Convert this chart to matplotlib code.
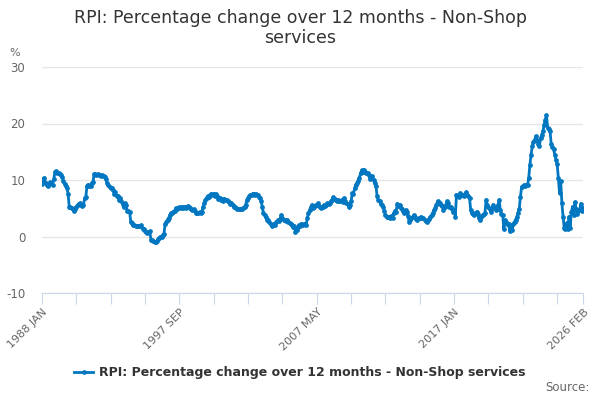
import matplotlib
matplotlib.use("Agg")
import matplotlib.pyplot as plt
import numpy as np

# valores mensuales (ene 1988 - feb 2026)
y1988 = [9.3, 10.2, 10.4, 9.4, 9.2, 9.0, 9.3, 9.6, 9.4, 9.2, 10.2, 11.5]
y1989 = [11.6, 11.3, 11.2, 11.0, 10.9, 10.6, 9.8, 9.3, 9.0, 8.6, 7.6, 5.3]
y1990 = [5.2, 5.0, 4.8, 4.6, 4.9, 5.3, 5.6, 5.8, 5.9, 5.5, 5.4, 5.6]
y1991 = [6.8, 7.0, 9.0, 9.2, 9.0, 8.9, 9.5, 9.6, 11.0, 11.1, 10.9, 11.0]
y1992 = [10.8, 10.9, 10.7, 10.8, 10.7, 10.6, 10.1, 9.5, 9.2, 8.8, 8.6, 8.5]
y1993 = [8.2, 7.6, 7.8, 7.2, 7.1, 6.5, 6.9, 6.3, 5.8, 5.2, 5.9, 5.6]
y1994 = [4.5, 4.5, 4.4, 2.5, 2.4, 2.0, 2.0, 1.8, 1.9, 1.8, 1.9, 1.9]
y1995 = [2.0, 1.4, 1.3, 1.0, 0.8, 0.7, 0.8, 0.9, -0.6, -0.7, -0.8, -0.9]
y1996 = [-0.9, -0.8, -0.5, -0.3, -0.1, 0.0, 0.3, 0.5, 2.3, 2.5, 3.0, 3.3]
y1997 = [3.8, 4.1, 4.2, 4.4, 4.6, 5.0, 4.8, 5.0, 5.2, 5.1, 5.3, 5.0]
y1998 = [5.2, 5.3, 5.1, 5.4, 5.2, 5.0, 4.9, 4.7, 4.8, 4.5, 4.2, 4.1]
y1999 = [4.1, 4.3, 4.2, 4.4, 5.2, 5.9, 6.5, 6.9, 7.1, 7.0, 7.3, 7.6]
y2000 = [7.4, 7.6, 7.2, 7.5, 7.1, 6.6, 6.9, 6.5, 6.6, 6.3, 6.7, 6.4]
y2001 = [6.4, 6.2, 6.1, 5.8, 5.9, 5.6, 5.3, 5.2, 5.0, 4.9, 4.8, 4.8]
y2002 = [4.8, 4.9, 5.1, 5.3, 5.6, 6.5, 6.8, 7.1, 7.3, 7.4, 7.6, 7.6]
y2003 = [7.4, 7.5, 7.4, 7.0, 6.8, 6.3, 5.3, 4.1, 3.8, 3.4, 3.0, 2.9]
y2004 = [2.6, 2.2, 1.8, 2.0, 2.3, 2.1, 2.6, 2.9, 2.7, 3.1, 3.8, 3.2]
y2005 = [2.9, 3.0, 2.7, 2.9, 2.6, 2.4, 2.3, 2.1, 1.7, 1.9, 0.8, 1.2]
y2006 = [1.7, 2.0, 1.9, 2.3, 2.0, 2.2, 2.3, 2.0, 3.2, 4.1, 4.7, 5.2]
y2007 = [5.6, 5.0, 5.3, 5.5, 5.6, 5.9, 5.4, 5.2, 5.0, 5.3, 5.6, 5.4]
y2008 = [5.6, 5.9, 5.7, 6.0, 6.2, 6.5, 7.0, 6.6, 6.4, 6.2, 6.5, 6.2]
y2009 = [6.3, 6.5, 6.1, 6.8, 6.3, 6.0, 5.8, 5.2, 5.6, 6.2, 7.7, 7.6]
y2010 = [8.5, 9.2, 9.5, 9.9, 10.4, 11.2, 11.7, 11.5, 11.8, 11.5, 11.2, 11.3]
y2011 = [10.8, 10.2, 10.4, 10.7, 10.0, 9.4, 8.9, 7.1, 6.5, 6.2, 5.8, 5.5]
y2012 = [5.3, 4.6, 3.8, 3.5, 3.5, 3.4, 3.2, 3.6, 3.3, 4.1, 4.6, 4.4]
y2013 = [5.8, 5.4, 5.6, 5.0, 4.8, 4.5, 4.1, 4.7, 4.4, 3.6, 2.6, 3.0]
y2014 = [3.2, 3.5, 3.8, 3.4, 3.1, 2.9, 3.2, 3.3, 3.5, 3.3, 3.2, 3.0]
y2015 = [2.8, 2.6, 2.9, 3.1, 3.5, 3.8, 4.2, 4.7, 5.0, 5.6, 6.2, 6.0]
y2016 = [5.9, 5.6, 5.4, 4.7, 5.2, 5.6, 6.2, 5.9, 5.3, 5.3, 4.9, 4.4]
y2017 = [4.7, 3.5, 7.4, 7.2, 7.0, 7.7, 7.4, 7.3, 7.1, 7.5, 7.8, 7.4]
y2018 = [7.1, 6.8, 4.7, 4.2, 4.0, 3.8, 4.1, 4.4, 4.0, 3.2, 2.9, 3.5]
y2019 = [3.8, 3.9, 4.1, 6.5, 5.6, 5.3, 4.9, 4.4, 5.0, 5.6, 5.1, 4.7]
y2020 = [5.2, 5.5, 6.5, 4.7, 4.0, 3.8, 1.3, 2.9, 2.6, 2.3, 2.3, 0.9]
y2021 = [1.5, 1.1, 2.3, 2.6, 3.0, 3.5, 4.2, 4.9, 7.0, 8.8, 8.9, 9.1]
y2022 = [9.0, 9.2, 9.1, 10.4, 12.7, 14.5, 16.0, 16.8, 17.1, 17.7, 17.0, 16.4]
y2023 = [16.0, 17.4, 18.0, 18.6, 19.8, 20.7, 21.5, 19.2, 19.0, 18.7, 16.3, 15.8]
y2024 = [15.4, 14.5, 13.6, 12.8, 10.4, 7.7, 9.8, 5.9, 3.5, 1.5, 1.4, 2.4]
y2025 = [1.4, 3.5, 1.5, 4.3, 5.3, 3.8, 6.1, 4.9, 4.0, 4.5, 4.8, 5.8]
y2026 = [4.6, 5.0]

valores = (y1988 + y1989 + y1990 + y1991 + y1992 + y1993 + y1994 + y1995 + y1996 +
           y1997 + y1998 + y1999 + y2000 + y2001 + y2002 + y2003 + y2004 + y2005 +
           y2006 + y2007 + y2008 + y2009 + y2010 + y2011 + y2012 + y2013 + y2014 +
           y2015 + y2016 + y2017 + y2018 + y2019 + y2020 + y2021 + y2022 + y2023 +
           y2024 + y2025 + y2026)

meses = ["JAN", "FEB", "MAR", "APR", "MAY", "JUN", "JUL", "AUG", "SEP", "OCT", "NOV", "DEC"]
etiquetas = [str(1988 + i // 12) + " " + meses[i % 12] for i in range(len(valores))]

azul = "#0077c0"
gris_texto = "#666666"

plt.rcParams['font.family'] = ['DejaVu Sans']
plt.rcParams['axes.unicode_minus'] = False

fig = plt.figure(figsize=(6, 4), dpi=100)
ax = fig.add_axes([0.07, 0.2675, 0.902, 0.565])

x = np.arange(len(valores))
ax.plot(x, valores, color=azul, linewidth=2, marker="o", markersize=2.4,
        label="RPI: Percentage change over 12 months - Non-Shop services")

ax.set_xlim(0, len(valores) - 1)
ax.set_ylim(-10, 30)
ax.set_yticks([-10, 0, 10, 20, 30])
ax.grid(axis="y", color="#e6e6e6", linewidth=1)
ax.set_axisbelow(True)

# ticks del eje x cada 29 meses, etiqueta cada 4
ticks = list(range(0, len(valores), 29)) + [len(valores) - 1]
ax.set_xticks(ticks)
ax.set_xticklabels([etiquetas[t] if (t % 116 == 0 or t == len(valores) - 1) else "" for t in ticks],
                   rotation=45, ha="right", rotation_mode="anchor", fontsize=8, color=gris_texto)
ax.tick_params(axis="x", length=8, color="#ccd6eb", pad=2)
ax.tick_params(axis="y", length=0, labelsize=8.5, labelcolor=gris_texto, pad=12)

for lado in ["top", "right", "left"]:
    ax.spines[lado].set_visible(False)
ax.spines["bottom"].set_color("#ccd6eb")

fig.text(0.5, 0.978, "RPI: Percentage change over 12 months - Non-Shop\nservices",
         ha="center", va="top", fontsize=12.5, color="#333333", linespacing=1.15)
fig.text(0.015, 0.86, "%", fontsize=8, color=gris_texto)

fig.legend(loc="center", bbox_to_anchor=(0.5, 0.068), frameon=False,
           prop={"weight": "bold", "size": 9}, handlelength=1.5, handletextpad=0.5,
           labelcolor="#333333")
fig.text(0.983, 0.022, "Source:", ha="right", fontsize=8.5, color=gris_texto)

plt.savefig("out.png", dpi=100)
